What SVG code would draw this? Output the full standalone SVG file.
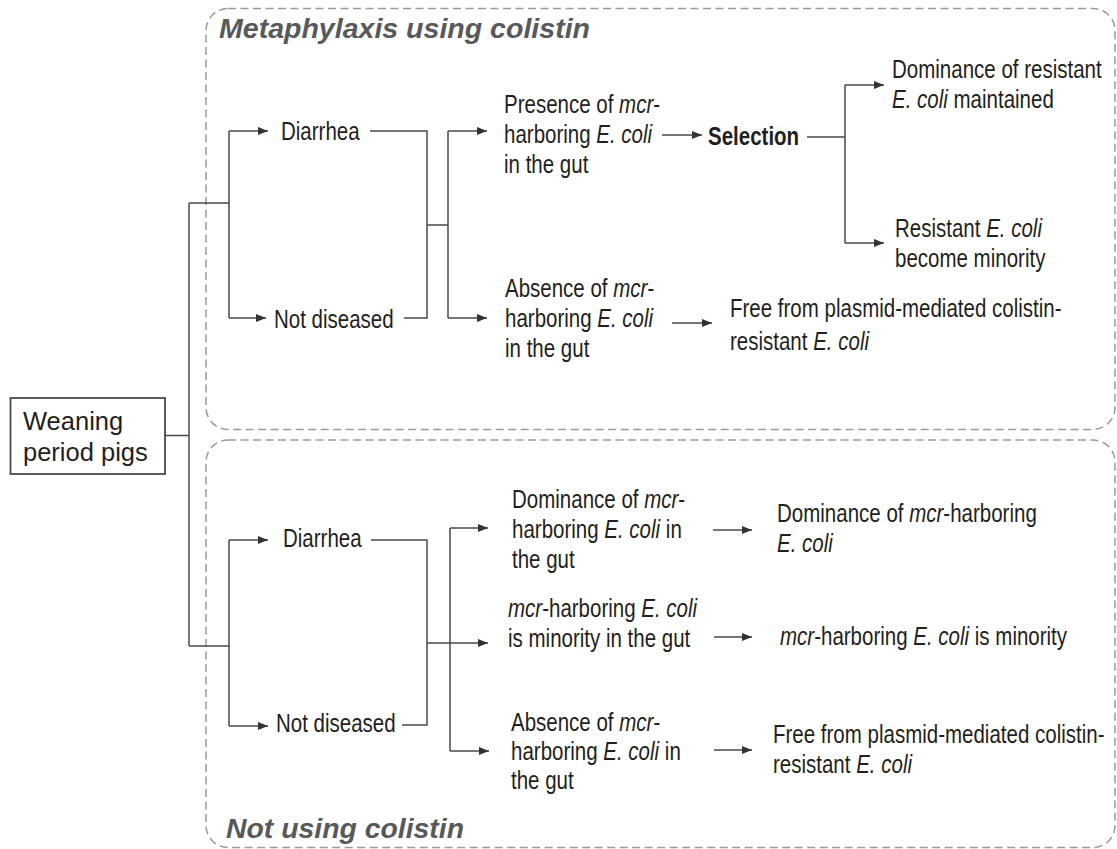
<svg xmlns="http://www.w3.org/2000/svg" width="1117" height="849" viewBox="0 0 1117 849">
<style>
.bg{fill:#ffffff}
.zone{fill:none;stroke:#9a9a9a;stroke-width:1.5;stroke-dasharray:8 4.5}
.title{font-family:"Liberation Sans",Arial,sans-serif;font-weight:bold;font-style:italic;font-size:27px;fill:#58595b}
.t{font-family:"Liberation Sans",Arial,sans-serif;font-size:25px;fill:#231f20}
.w{font-family:"Liberation Sans",Arial,sans-serif;font-size:25.5px;fill:#231f20}
.b{font-weight:bold}
.i{font-style:italic}
.ln{fill:none;stroke:#4a4a4a;stroke-width:1.5}
.ar{fill:none;stroke:#4a4a4a;stroke-width:1.5;marker-end:url(#ah)}
.box{fill:#ffffff;stroke:#4a4a4a;stroke-width:1.8}
</style>
<defs>
<marker id="ah" markerUnits="userSpaceOnUse" markerWidth="11" markerHeight="9" refX="10" refY="4" orient="auto">
<path d="M0,0 L10,4 L0,8 Z" fill="#333333"/>
</marker>
</defs>
<rect class="bg" x="0" y="0" width="1117" height="849"/>
<g id="zone-metaphylaxis">
<rect class="zone" x="206" y="8.5" width="909" height="421" rx="22" ry="22"/>
<text class="title" x="219" y="38" textLength="371" lengthAdjust="spacingAndGlyphs">Metaphylaxis using colistin</text>
</g>
<g id="zone-not-using">
<rect class="zone" x="206" y="440" width="909" height="407.5" rx="22" ry="22"/>
<text class="title" x="226" y="838" textLength="238" lengthAdjust="spacingAndGlyphs">Not using colistin</text>
</g>
<g id="connectors">
<path class="ln" d="M165,435.5 H189 M189,203 V646 M189,203 H229 M229,131 V318 M189,646 H229 M229,540 V726"/>
<path class="ar" d="M229,131 H268"/>
<path class="ar" d="M229,318 H266"/>
<path class="ar" d="M229,540 H268"/>
<path class="ar" d="M229,726 H268"/>
<path class="ln" d="M370,131 H427 V318 H404 M427,225 H448 M448,131 V318"/>
<path class="ar" d="M448,131 H487"/>
<path class="ar" d="M448,318 H487"/>
<path class="ar" d="M662,135 H702"/>
<path class="ln" d="M807,137 H845 M845,85 V243"/>
<path class="ar" d="M845,85 H884"/>
<path class="ar" d="M845,243 H884"/>
<path class="ar" d="M672,323 H712"/>
<path class="ln" d="M371,540 H427 V725 H402 M450,528 V751"/>
<path class="ar" d="M427,643 H488"/>
<path class="ar" d="M450,528 H488"/>
<path class="ar" d="M450,751 H489"/>
<path class="ar" d="M713,530 H752"/>
<path class="ar" d="M714,637 H752"/>
<path class="ar" d="M714,750 H752"/>
</g>
<g id="weaning">
<rect class="box" x="10.5" y="398" width="154.5" height="76"/>
<text class="w" x="23" y="430">Weaning</text>
<text class="w" x="23" y="461">period pigs</text>
</g>
<g id="m-diarrhea"><text class="t" transform="translate(281,140) scale(0.82,1)">Diarrhea</text></g>
<g id="m-notdiseased"><text class="t" transform="translate(274,328) scale(0.82,1)">Not diseased</text></g>
<g id="m-presence">
<text class="t" transform="translate(504,113) scale(0.82,1)">Presence of <tspan class="i">mcr</tspan>-</text>
<text class="t" transform="translate(504,143) scale(0.82,1)">harboring <tspan class="i">E. coli</tspan></text>
<text class="t" transform="translate(504,173) scale(0.82,1)">in the gut</text>
</g>
<g id="m-selection"><text class="t b" transform="translate(708,145) scale(0.82,1)">Selection</text></g>
<g id="m-dominance">
<text class="t" transform="translate(892,78) scale(0.82,1)">Dominance of resistant</text>
<text class="t" transform="translate(892,108) scale(0.82,1)"><tspan class="i">E. coli</tspan> maintained</text>
</g>
<g id="m-minority">
<text class="t" transform="translate(895,237) scale(0.82,1)">Resistant <tspan class="i">E. coli</tspan></text>
<text class="t" transform="translate(895,267) scale(0.82,1)">become minority</text>
</g>
<g id="m-absence">
<text class="t" transform="translate(505,297) scale(0.82,1)">Absence of <tspan class="i">mcr</tspan>-</text>
<text class="t" transform="translate(505,327) scale(0.82,1)">harboring <tspan class="i">E. coli</tspan></text>
<text class="t" transform="translate(505,357) scale(0.82,1)">in the gut</text>
</g>
<g id="m-free">
<text class="t" transform="translate(730,317) scale(0.82,1)">Free from plasmid-mediated colistin-</text>
<text class="t" transform="translate(730,350) scale(0.82,1)">resistant <tspan class="i">E. coli</tspan></text>
</g>
<g id="n-diarrhea"><text class="t" transform="translate(283,547) scale(0.82,1)">Diarrhea</text></g>
<g id="n-notdiseased"><text class="t" transform="translate(276,732) scale(0.82,1)">Not diseased</text></g>
<g id="n-dominance">
<text class="t" transform="translate(512,508) scale(0.82,1)">Dominance of <tspan class="i">mcr</tspan>-</text>
<text class="t" transform="translate(512,538) scale(0.82,1)">harboring <tspan class="i">E. coli</tspan> in</text>
<text class="t" transform="translate(512,568) scale(0.82,1)">the gut</text>
</g>
<g id="n-minority">
<text class="t" transform="translate(508,617) scale(0.82,1)"><tspan class="i">mcr</tspan>-harboring <tspan class="i">E. coli</tspan></text>
<text class="t" transform="translate(508,647) scale(0.82,1)">is minority in the gut</text>
</g>
<g id="n-absence">
<text class="t" transform="translate(511,731) scale(0.82,1)">Absence of <tspan class="i">mcr</tspan>-</text>
<text class="t" transform="translate(511,760) scale(0.82,1)">harboring <tspan class="i">E. coli</tspan> in</text>
<text class="t" transform="translate(511,789) scale(0.82,1)">the gut</text>
</g>
<g id="n-dominance-out">
<text class="t" transform="translate(777,522) scale(0.82,1)">Dominance of <tspan class="i">mcr</tspan>-harboring</text>
<text class="t" transform="translate(777,552) scale(0.82,1)"><tspan class="i">E. coli</tspan></text>
</g>
<g id="n-minority-out">
<text class="t" transform="translate(780,645) scale(0.82,1)"><tspan class="i">mcr</tspan>-harboring <tspan class="i">E. coli</tspan> is minority</text>
</g>
<g id="n-free">
<text class="t" transform="translate(773,743) scale(0.82,1)">Free from plasmid-mediated colistin-</text>
<text class="t" transform="translate(773,773) scale(0.82,1)">resistant <tspan class="i">E. coli</tspan></text>
</g>
</svg>
